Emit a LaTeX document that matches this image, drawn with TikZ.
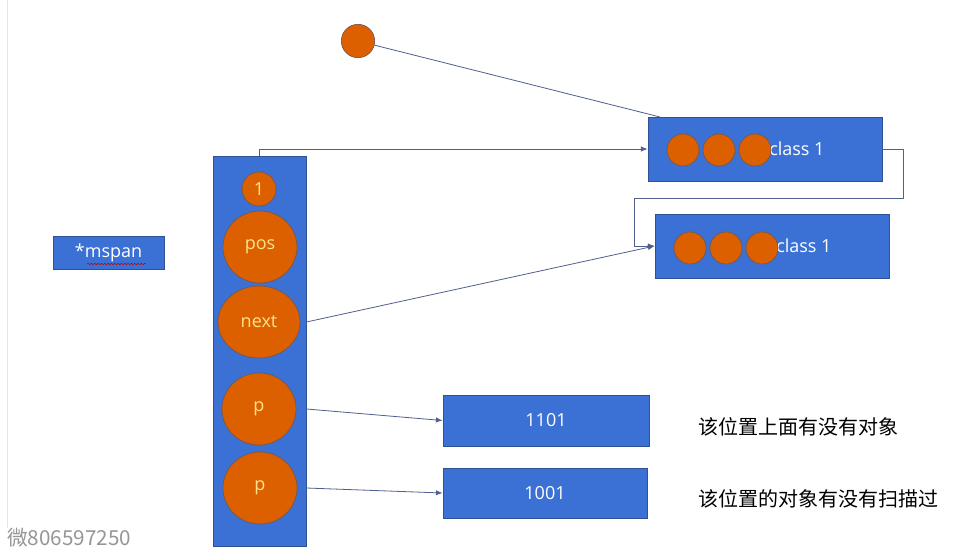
\documentclass[tikz,border=0pt]{standalone}
\usepackage{fontspec}
\setmainfont{Open Sans}
\newfontfamily\cjk{Noto Sans CJK SC}
\usetikzlibrary{arrows.meta,positioning,shapes.geometric,decorations.pathmorphing}
\definecolor{slideblue}{RGB}{59,113,212}
\definecolor{blueedge}{RGB}{47,82,150}
\definecolor{ballorange}{RGB}{221,96,0}
\definecolor{balledge}{RGB}{120,85,70}
\definecolor{balltext}{RGB}{255,226,140}
\definecolor{linkgray}{RGB}{80,95,140}
\definecolor{markgray}{RGB}{150,150,150}

\begin{document}
\begin{tikzpicture}[x=0.75pt,y=-0.75pt]
\tikzset{
  blockbox/.style={rectangle,draw=blueedge,fill=slideblue,line width=0.6pt,text=white,inner sep=0pt,font=\fontsize{13.5}{15}\selectfont},
  ballnode/.style={ellipse,draw=balledge,fill=ballorange,line width=0.5pt,text=balltext,inner sep=0pt,font=\fontsize{13.5}{15}\selectfont},
  link/.style={draw=linkgray,line width=0.6pt,line cap=round,line join=round},
  directed/.style={link,-{Latex[length=5pt,width=4pt]}},
  notetext/.style={anchor=west,inner sep=0pt,font=\cjk\fontsize{15}{17}\selectfont}
}
\useasboundingbox (0,0) rectangle (957,557);
\fill[white] (0,0) rectangle (957,557);
\draw[gray!20,line width=0.6pt] (7,0) -- (7,528);
% span blocks on the right
\node[ballnode,minimum width=25pt,minimum height=25pt] (n_dot) at (358,41) {};
\node[blockbox,minimum width=175.5pt,minimum height=48pt] (n_spanA) at (765,149) {};
\node[blockbox,minimum width=175.5pt,minimum height=48pt] (n_spanB) at (772,246) {};
\node[anchor=west,inner sep=0pt,text=white,font=\fontsize{13.5}{15}\selectfont] (t_spanA) at (769,149) {class 1};
\node[anchor=west,inner sep=0pt,text=white,font=\fontsize{13.5}{15}\selectfont] (t_spanB) at (776,246) {class 1};
\foreach \i/\x in {0/683,1/719,2/755}
  \node[ballnode,minimum width=24pt,minimum height=24pt] (n_a\i) at (\x,150) {};
\foreach \i/\x in {0/690,1/726,2/762}
  \node[ballnode,minimum width=24pt,minimum height=24pt] (n_b\i) at (\x,248) {};
% mspan column
\node[blockbox,minimum width=83.25pt,minimum height=24.75pt] (n_mspan) at (108.5,252.5) {*mspan};
\draw[red!75!black,line width=0.4pt,decorate,decoration={snake,amplitude=0.5pt,segment length=2.5pt}] (87,264) -- (146,264);
\node[blockbox,minimum width=69.75pt,minimum height=292.5pt] (n_col) at (259.5,351) {};
\node[ballnode,minimum width=25.5pt,minimum height=25.5pt] (n_one) at (259,189) {1};
\node[ballnode,minimum width=55.5pt,minimum height=54pt] (n_pos) at (260,247) {pos};
\node[ballnode,minimum width=61.5pt,minimum height=54pt] (n_next) at (259,322) {next};
\node[ballnode,minimum width=55.5pt,minimum height=54pt] (n_p0) at (259,409) {p};
\node[ballnode,minimum width=55.5pt,minimum height=54pt] (n_p1) at (260,488) {p};
% bitmaps
\node[blockbox,minimum width=154.5pt,minimum height=38.25pt] (n_bits0) at (546,420.5) {1101};
\node[blockbox,minimum width=153pt,minimum height=37.5pt] (n_bits1) at (545,493) {1001};
\node[notetext] (n_note0) at (698,427) {该位置上面有没有对象};
\node[notetext] (n_note1) at (698,499) {该位置的对象有没有扫描过};
\node[anchor=west,inner sep=0pt,text=markgray,font=\cjk\fontsize{15.5}{17}\selectfont] (n_mark) at (7,538) {微806597250};
% links
\coordinate (c_topin) at (660,117);
\draw[link] (n_dot) -- (c_topin);
\draw[directed] (n_col.north) |- (n_spanA.west);
\draw[directed] (n_spanA.east) -- ++(21,0) -- ++(0,49) -| ([xshift=-15pt]n_spanB.west) -- (n_spanB.west);
\draw[directed] (n_next -| n_col.east) -- (n_spanB.west);
\draw[directed] (n_p0 -| n_col.east) -- (n_bits0.west);
\draw[directed] (n_p1 -| n_col.east) -- (n_bits1.west);
\end{tikzpicture}
\end{document}
